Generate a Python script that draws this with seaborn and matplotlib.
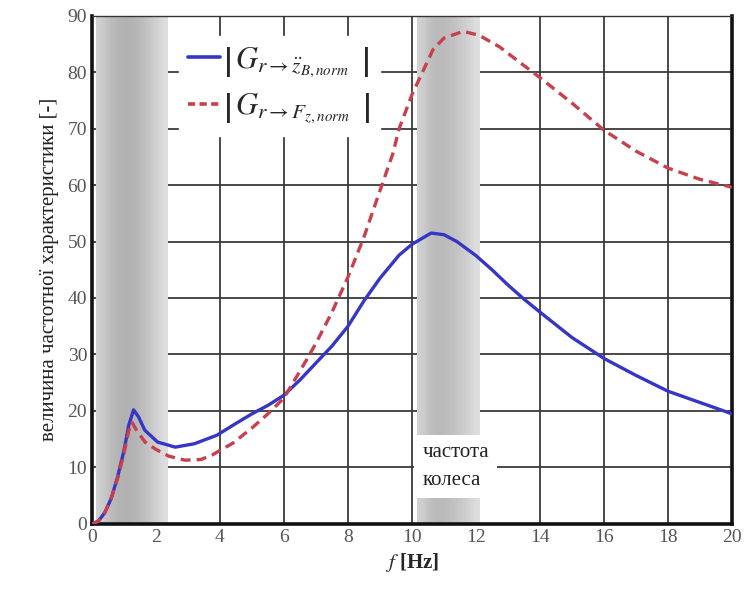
import numpy as np
import pandas as pd
import matplotlib
matplotlib.use("Agg")
import matplotlib.pyplot as plt
import seaborn as sns
from matplotlib.lines import Line2D

# ---- data ----
f_blue = [0, 0.2, 0.4, 0.6, 0.8, 1.0, 1.15, 1.3, 1.45, 1.65, 2.05, 2.6, 3.2, 3.9, 4.5,
          5.0, 5.5, 6.0, 6.5, 7.0, 7.5, 8.0, 8.5, 9.0, 9.6, 10.0, 10.6, 11.0, 11.4, 12.0,
          12.5, 13.0, 13.5, 14.0, 15.0, 16.0, 17.0, 18.0, 19.0, 20.0]
g_blue = [0, 0.5, 2, 4.5, 8.3, 13, 17.5, 20.2, 19, 16.6, 14.5, 13.6, 14.2, 15.7, 17.8,
          19.5, 21, 22.8, 25.5, 28.5, 31.5, 35, 39.5, 43.5, 47.6, 49.5, 51.5, 51.2, 50, 47.5,
          45, 42.3, 39.8, 37.5, 33, 29.3, 26.3, 23.5, 21.5, 19.5]

f_red = [0, 0.2, 0.4, 0.6, 0.8, 1.0, 1.15, 1.25, 1.4, 1.66, 2.0, 2.4, 2.9, 3.4, 3.75,
         4.4, 5.0, 5.5, 6.0, 6.7, 7.0, 7.5, 8.0, 8.5, 9.0, 9.4, 9.6, 10.0, 10.66, 11.0,
         11.6, 12.1, 12.75, 13.3, 14.0, 15.0, 16.0, 17.0, 18.0, 19.0, 20.0]
g_red = [0, 0.5, 2, 4.5, 8, 12.5, 16.5, 18, 16.5, 14.5, 13.2, 12, 11.3, 11.4, 12.2,
         14.3, 17, 19.5, 22.3, 29, 32, 37.5, 43.7, 50.8, 59, 65.5, 70, 76, 84, 86,
         87.2, 86.5, 84.4, 82, 79, 74.5, 69.7, 66, 63, 61, 59.6]

label_blue = r"$\left|\,G_{r\rightarrow\ddot{z}_{B,norm}}\;\;\right|$"
label_red = r"$\left|\,G_{r\rightarrow F_{z,norm}}\;\;\right|$"
xticks = [0, 2, 4, 6, 8, 10, 12, 14, 16, 18, 20]
yticks = [0, 10, 20, 30, 40, 50, 60, 70, 80, 90]
band_ranges = [(0.12, 2.35), (10.15, 12.1)]
note_text = "частота\nколеса"
ylabel = "величина частотної характеристики [-]"

df_blue = pd.DataFrame({"f": f_blue, "g": g_blue})
df_red = pd.DataFrame({"f": f_red, "g": g_red})

sns.set_style("white")
plt.rcParams["font.family"] = ["Liberation Serif", "DejaVu Serif"]
plt.rcParams["mathtext.fontset"] = "stix"

fig = plt.figure(figsize=(7.46, 5.90), dpi=100)
ax = fig.add_axes([0.1233, 0.1119, 0.8579, 0.8618])

# shaded bands with gradient (drawn above the grid, as in the reference)
prof1 = np.array([[0.82, 0.74, 0.70, 0.69, 0.71, 0.75, 0.80, 0.87]])
prof2 = np.array([[0.82, 0.74, 0.72, 0.74, 0.77, 0.81, 0.87]])
for (x0, x1), prof in zip(band_ranges, [prof1, prof2]):
    ax.imshow(prof, cmap="gray", vmin=0, vmax=1, extent=[x0, x1, 0, 90],
              aspect="auto", interpolation="bicubic", zorder=1.5)

sns.lineplot(data=df_blue, x="f", y="g", ax=ax, color="#3535c8", lw=2.4,
             sort=False, estimator=None, zorder=3)
sns.lineplot(data=df_red, x="f", y="g", ax=ax, color="#c8404e", lw=2.4,
             sort=False, estimator=None, zorder=3, linestyle=(0, (3.0, 1.8)))

ax.set_xlim(0, 20)
ax.set_ylim(0, 90)
ax.set_xticks(xticks)
ax.set_yticks(yticks)
ax.set_axisbelow(True)
ax.grid(True, color="#3a3a3a", lw=1.3)
ax.tick_params(axis="both", labelsize=14, direction="in", length=4, color="#222",
               labelcolor="#555")

for side in ["left", "bottom", "right"]:
    ax.spines[side].set_linewidth(2.6)
    ax.spines[side].set_color("#111")
ax.spines["top"].set_linewidth(1.0)
ax.spines["top"].set_color("#333")

ax.set_xlabel(r"$f$ [Hz]", fontsize=15, fontweight="bold", labelpad=4)
ax.set_ylabel(ylabel, fontsize=15, color="#222", labelpad=6)

handles = [Line2D([], [], color="#3535c8", lw=2.6),
           Line2D([], [], color="#c8404e", lw=2.6, linestyle=(0, (2.0, 1.2)))]
leg = ax.legend(handles, [label_blue, label_red], loc="upper left",
                bbox_to_anchor=(0.112, 0.99), fontsize=22, frameon=True,
                facecolor="white", edgecolor="white", framealpha=1.0,
                handlelength=1.05, handletextpad=0.1, borderpad=0.3,
                labelspacing=0.4, fancybox=False)
leg.set_zorder(5)

ax.text(10.32, 10.2, note_text, fontsize=15, va="center", ha="left", color="#222",
        linespacing=1.6, zorder=6,
        bbox=dict(boxstyle="square,pad=0.4", facecolor="white", edgecolor="none"))

fig.savefig("out.png", dpi=100)
